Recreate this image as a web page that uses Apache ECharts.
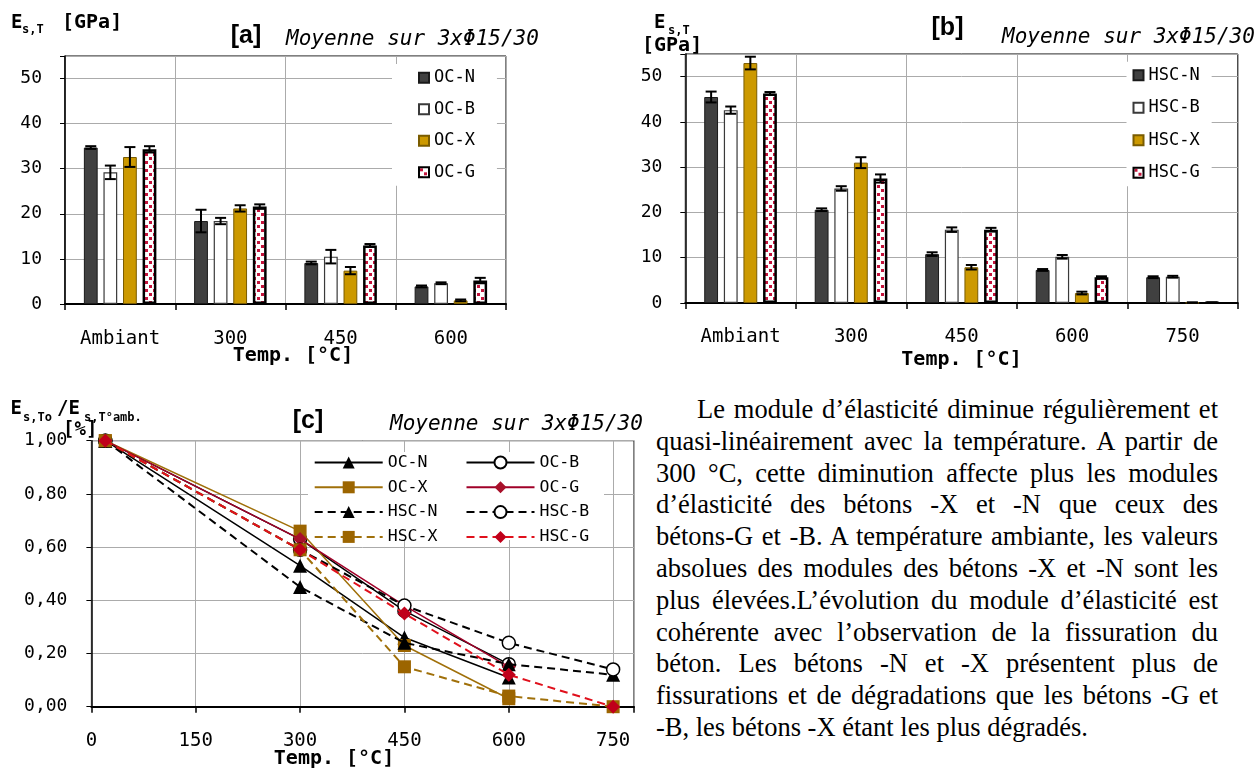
<!DOCTYPE html>
<html><head><meta charset="utf-8">
<script src="https://cdn.jsdelivr.net/npm/echarts@6/dist/echarts.min.js"></script>
<style>
html,body{margin:0;padding:0;background:#fff;width:1257px;height:769px;overflow:hidden;}
#ca{position:absolute;left:0;top:0;width:620px;height:378px;}
#cb{position:absolute;left:620px;top:0;width:637px;height:378px;}
#cc{position:absolute;left:0;top:385px;width:645px;height:384px;}
#txt{position:absolute;left:656px;top:394px;width:562px;font-family:"Liberation Serif","Times New Roman",serif;font-size:26.5px;line-height:31.8px;color:#000;}
#txt div{text-align:justify;text-align-last:justify;white-space:nowrap;}
#txt div.first{text-indent:41px;}
#txt div.last{text-align:left;text-align-last:left;}
</style>
</head><body>
<div id="ca"></div><div id="cb"></div><div id="cc"></div>
<div id="txt">
<div class="first">Le module d’élasticité diminue régulièrement et</div>
<div>quasi-linéairement avec la température. A partir de</div>
<div>300 °C, cette diminution affecte plus les modules</div>
<div>d’élasticité des bétons -X et -N que ceux des</div>
<div>bétons-G et -B. A température ambiante, les valeurs</div>
<div>absolues des modules des bétons -X et -N sont les</div>
<div>plus élevées.L’évolution du module d’élasticité est</div>
<div>cohérente avec l’observation de la fissuration du</div>
<div>béton. Les bétons -N et -X présentent plus de</div>
<div>fissurations et de dégradations que les bétons -G et</div>
<div class="last">-B, les bétons -X étant les plus dégradés.</div>
</div>
<script>
// ---------- DATA ----------
const catsA = ['Ambiant', '300', '450', '600'];
const namesA = ['OC-N', 'OC-B', 'OC-X', 'OC-G'];
const ocN = [34.7, 18.4, 9.1, 3.9];
const ocNerr = [0.3, 2.5, 0.3, 0.2];
const ocB = [29.2, 18.4, 10.5, 4.6];
const ocBerr = [1.5, 0.7, 1.5, 0.2];
const ocX = [32.6, 21.2, 7.4, 0.8];
const ocXerr = [2.2, 0.7, 0.8, 0.2];
const ocG = [34.3, 21.6, 13.0, 5.2];
const ocGerr = [0.7, 0.5, 0.3, 0.6];

const catsB = ['Ambiant', '300', '450', '600', '750'];
const namesB = ['HSC-N', 'HSC-B', 'HSC-X', 'HSC-G'];
const hscN = [45.5, 20.6, 10.8, 7.3, 5.7];
const hscNerr = [1.2, 0.3, 0.4, 0.2, 0.2];
const hscB = [42.6, 25.3, 16.2, 10.2, 5.8];
const hscBerr = [0.8, 0.5, 0.5, 0.4, 0.2];
const hscX = [53.0, 31.0, 7.9, 2.2, 0.1];
const hscXerr = [1.4, 1.2, 0.5, 0.3, 0.0];
const hscG = [46.3, 27.5, 16.2, 5.7, 0.1];
const hscGerr = [0.3, 0.9, 0.4, 0.2, 0.0];

const tempOC = [20, 300, 450, 600];
const tempHSC = [20, 300, 450, 600, 750];
const relOCN = [1.00, 0.53, 0.26, 0.11];
const relOCB = [1.00, 0.63, 0.36, 0.16];
const relOCX = [1.00, 0.66, 0.23, 0.03];
const relOCG = [1.00, 0.63, 0.38, 0.15];
const relHSCN = [1.00, 0.45, 0.24, 0.16, 0.12];
const relHSCB = [1.00, 0.59, 0.38, 0.24, 0.14];
const relHSCX = [1.00, 0.59, 0.15, 0.04, 0.00];
const relHSCG = [1.00, 0.59, 0.35, 0.12, 0.00];

const yTicksBar = [0, 10, 20, 30, 40, 50];
const xTicksLine = [0, 150, 300, 450, 600, 750];

// ---------- STYLE ----------
const MONO = '"DejaVu Sans Mono", "Liberation Mono", monospace';
const TITLEF = '"Liberation Sans", Arial, sans-serif';
const GRIDC = '#ABABAB';

function dotPattern() {
  const c = document.createElement('canvas');
  c.width = 8; c.height = 8;
  const g = c.getContext('2d');
  g.fillStyle = '#ffffff'; g.fillRect(0, 0, 8, 8);
  g.fillStyle = '#C4143C';
  g.fillRect(1, 1, 3, 3); g.fillRect(5, 5, 3, 3);
  return c;
}
const PAT = { image: dotPattern(), repeat: 'repeat' };
const barStyles = [
  { color: '#404040', borderColor: '#1a1a1a', borderWidth: 1 },
  { color: '#ffffff', borderColor: '#3a3a3a', borderWidth: 1.2 },
  { color: '#CC9900', borderColor: '#7a5c00', borderWidth: 1 },
  { color: PAT, borderColor: '#000000', borderWidth: 2.5 }
];
const BW = 0.125, BG = 0.42;

function errRender(idx, n) {
  return function (params, api) {
    const ci = api.value(0), lo = api.value(1), hi = api.value(2);
    const band = api.size([1, 0])[0];
    const bw = band * BW, step = bw * (1 + BG);
    const total = n * bw + (n - 1) * bw * BG;
    const cx = api.coord([ci, 0])[0] - total / 2 + idx * step + bw / 2;
    const y1 = api.coord([ci, lo])[1], y2 = api.coord([ci, hi])[1];
    const hw = 5.5;
    const st = { stroke: '#000', lineWidth: 2 };
    return { type: 'group', children: [
      { type: 'line', shape: { x1: cx, y1: y1, x2: cx, y2: y2 }, style: st },
      { type: 'line', shape: { x1: cx - hw, y1: y2, x2: cx + hw, y2: y2 }, style: st },
      { type: 'line', shape: { x1: cx - hw, y1: y1, x2: cx + hw, y2: y1 }, style: st }
    ]};
  };
}

function txt(x, y, text, font, align) {
  return { type: 'text', x: x, y: y, z: 100,
    style: { text: text, font: font, fill: '#000', align: align || 'left', verticalAlign: 'middle' } };
}

function barOption(cats, names, vals, errs, cfg) {
  const series = [];
  names.forEach((n, i) => {
    series.push({ name: n, type: 'bar', data: vals[i], barWidth: (BW * 100) + '%', barGap: (BG * 100) + '%',
      itemStyle: barStyles[i], z: 2, emphasis: { disabled: true } });
  });
  names.forEach((n, i) => {
    series.push({ name: 'err' + i, type: 'custom', renderItem: errRender(i, names.length), z: 5, silent: true,
      data: cats.map((c, k) => [k, vals[i][k] - errs[i][k], vals[i][k] + errs[i][k]]),
      encode: { x: 0, y: [1, 2] } });
  });
  return {
    animation: false,
    grid: { left: cfg.grid[0], top: cfg.grid[1], width: cfg.grid[2], height: cfg.grid[3], show: true,
      borderColor: '#000', borderWidth: 1, backgroundColor: 'transparent', outerBoundsMode: 'none', containLabel: false },
    xAxis: { type: 'category', data: cats,
      axisLine: { show: true, lineStyle: { color: '#000', width: 2 } },
      axisTick: { show: true, length: 6, lineStyle: { color: '#000', width: 1.5 } },
      splitLine: { show: true, lineStyle: { color: GRIDC, width: 1 } },
      axisLabel: { color: '#000', fontFamily: MONO, fontSize: 19, margin: cfg.xm } },
    yAxis: { type: 'value', min: 0, max: 55, interval: 10,
      axisLine: { show: true, lineStyle: { color: '#000', width: 1.5 } },
      axisTick: { show: true, length: 5, lineStyle: { color: '#000' } },
      splitLine: { show: true, lineStyle: { color: GRIDC, width: 1 } },
      axisLabel: { color: '#000', fontFamily: MONO, fontSize: 18, margin: cfg.ym,
        formatter: v => (yTicksBar.indexOf(v) >= 0 ? String(v) : '') } },
    legend: { data: names, orient: 'vertical', left: cfg.legend[0], top: cfg.legend[1], icon: 'rect',
      itemWidth: 10, itemHeight: 10, itemGap: cfg.legend[2], backgroundColor: '#fff', padding: cfg.legend[3],
      selectedMode: false, textStyle: { color: '#000', fontFamily: MONO, fontSize: 17 } },
    graphic: cfg.graphic,
    series: series
  };
}

// ---------- CHART A ----------
const chA = echarts.init(document.getElementById('ca'), null, { renderer: 'canvas' });
chA.setOption(barOption(catsA, namesA, [ocN, ocB, ocX, ocG], [ocNerr, ocBerr, ocXerr, ocGerr], {
  grid: [65, 56, 441, 248], xm: 25.5, ym: 23,
  legend: [392, 64, 14.5, [5.3, 22, 5, 26]],
  graphic: [
    txt(11, 23, 'E', 'bold 19px ' + MONO),
    txt(22, 30, 's,T', 'bold 12px ' + MONO),
    txt(62, 23, '[GPa]', 'bold 20px ' + MONO),
    txt(246, 36, '[a]', 'bold 25px ' + TITLEF, 'center'),
    txt(286, 40, 'Moyenne sur 3xΦ15/30', 'italic 21px ' + MONO),
    txt(293, 356, 'Temp. [°C]', 'bold 20px ' + MONO, 'center')
  ]
}));

// ---------- CHART B ----------
const chB = echarts.init(document.getElementById('cb'), null, { renderer: 'canvas' });
chB.setOption(barOption(catsB, namesB, [hscN, hscB, hscX, hscG], [hscNerr, hscBerr, hscXerr, hscGerr], {
  grid: [65.3, 54, 552.5, 249], xm: 25, ym: 23,
  legend: [506.5, 61.7, 15.5, [5, 12, 5, 6]],
  graphic: [
    txt(34, 23, 'E', 'bold 19px ' + MONO),
    txt(48, 31, 's,T', 'bold 12px ' + MONO),
    txt(22, 46, '[GPa]', 'bold 20px ' + MONO),
    txt(327.5, 28, '[b]', 'bold 25px ' + TITLEF, 'center'),
    txt(382, 37.5, 'Moyenne sur 3xΦ15/30', 'italic 21px ' + MONO),
    txt(341.5, 360, 'Temp. [°C]', 'bold 20px ' + MONO, 'center')
  ]
}));

// ---------- CHART C ----------
const zip = (xs, ys) => xs.map((x, i) => [x, ys[i]]);
const DASH = [8, 5];
const lineDefs = [
  { name: 'OC-N', x: tempOC, y: relOCN, sym: 'triangle', ss: 14, lc: '#000', fill: '#000', dash: 'solid', lw: 1.5 },
  { name: 'OC-B', x: tempOC, y: relOCB, sym: 'circle', ss: 13, lc: '#000', fill: '#fff', dash: 'solid', lw: 1.5 },
  { name: 'OC-X', x: tempOC, y: relOCX, sym: 'rect', ss: 13, lc: '#A0700A', fill: '#9C6500', dash: 'solid', lw: 1.5 },
  { name: 'OC-G', x: tempOC, y: relOCG, sym: 'diamond', ss: 14, lc: '#A00028', fill: '#A8102A', dash: 'solid', lw: 1.5 },
  { name: 'HSC-N', x: tempHSC, y: relHSCN, sym: 'triangle', ss: 14, lc: '#000', fill: '#000', dash: DASH, lw: 2 },
  { name: 'HSC-B', x: tempHSC, y: relHSCB, sym: 'circle', ss: 13, lc: '#000', fill: '#fff', dash: DASH, lw: 2 },
  { name: 'HSC-X', x: tempHSC, y: relHSCX, sym: 'rect', ss: 13, lc: '#A0700A', fill: '#9C6500', dash: DASH, lw: 2 },
  { name: 'HSC-G', x: tempHSC, y: relHSCG, sym: 'diamond', ss: 14, lc: '#E0101C', fill: '#C0001A', dash: DASH, lw: 2 }
];
const lineSeries = lineDefs.map((d, i) => ({
  name: d.name, type: 'line', data: zip(d.x, d.y), symbol: d.sym, symbolSize: d.ss, showAllSymbol: true,
  lineStyle: { color: d.lc, width: d.lw, type: d.dash },
  itemStyle: { color: d.fill, borderColor: d.sym === 'circle' ? '#000' : d.fill, borderWidth: d.sym === 'circle' ? 1.5 : 0 },
  z: 3 + i, emphasis: { disabled: true }
}));
const legC = (names, left) => ({
  data: names, orient: 'vertical', left: left, top: 67, itemWidth: 68, itemHeight: 15, itemGap: 7.8,
  padding: [2, 4, 4, 4], selectedMode: false,
  textStyle: { color: '#000', fontFamily: MONO, fontSize: 16.5 }
});
const chC = echarts.init(document.getElementById('cc'), null, { renderer: 'canvas' });
chC.setOption({
  animation: false,
  grid: { left: 91.4, top: 55.7, width: 542.6, height: 266, show: true, borderColor: '#000', borderWidth: 1,
    outerBoundsMode: 'none', containLabel: false },
  xAxis: { type: 'value', min: 0, max: 780, interval: 150,
    axisLine: { show: true, lineStyle: { color: '#000', width: 2 } },
    axisTick: { show: true, length: 6, lineStyle: { color: '#000', width: 1.5 } },
    splitLine: { show: true, lineStyle: { color: GRIDC, width: 1 } },
    axisLabel: { color: '#000', fontFamily: MONO, fontSize: 19, margin: 25,
      formatter: v => (xTicksLine.indexOf(v) >= 0 ? String(v) : '') } },
  yAxis: { type: 'value', min: 0, max: 1, interval: 0.2,
    axisLine: { show: true, lineStyle: { color: '#000', width: 1.5 } },
    axisTick: { show: true, length: 5, lineStyle: { color: '#000' } },
    splitLine: { show: true, lineStyle: { color: GRIDC, width: 1 } },
    axisLabel: { color: '#000', fontFamily: MONO, fontSize: 18, margin: 24,
      formatter: v => v.toFixed(2).replace('.', ',') } },
  legend: [legC(['OC-N', 'OC-X', 'HSC-N', 'HSC-X'], 309.7), legC(['OC-B', 'OC-G', 'HSC-B', 'HSC-G'], 461.5)],
  graphic: [
    { type: 'rect', shape: { x: 308, y: 67, width: 296, height: 88 }, style: { fill: '#fff' }, z: 1 },
    txt(10.5, 24, 'E', 'bold 19px ' + MONO),
    txt(23, 33, 's,To', 'bold 12px ' + MONO),
    txt(57, 24, '/E', 'bold 19px ' + MONO),
    txt(84, 33, 's,T°amb.', 'bold 12px ' + MONO),
    txt(63, 45, '[%]', 'bold 19px ' + MONO),
    txt(308, 36, '[c]', 'bold 25px ' + TITLEF, 'center'),
    txt(390, 40, 'Moyenne sur 3xΦ15/30', 'italic 21px ' + MONO),
    txt(334, 374, 'Temp. [°C]', 'bold 20px ' + MONO, 'center')
  ],
  series: lineSeries
});
</script>
</body></html>
